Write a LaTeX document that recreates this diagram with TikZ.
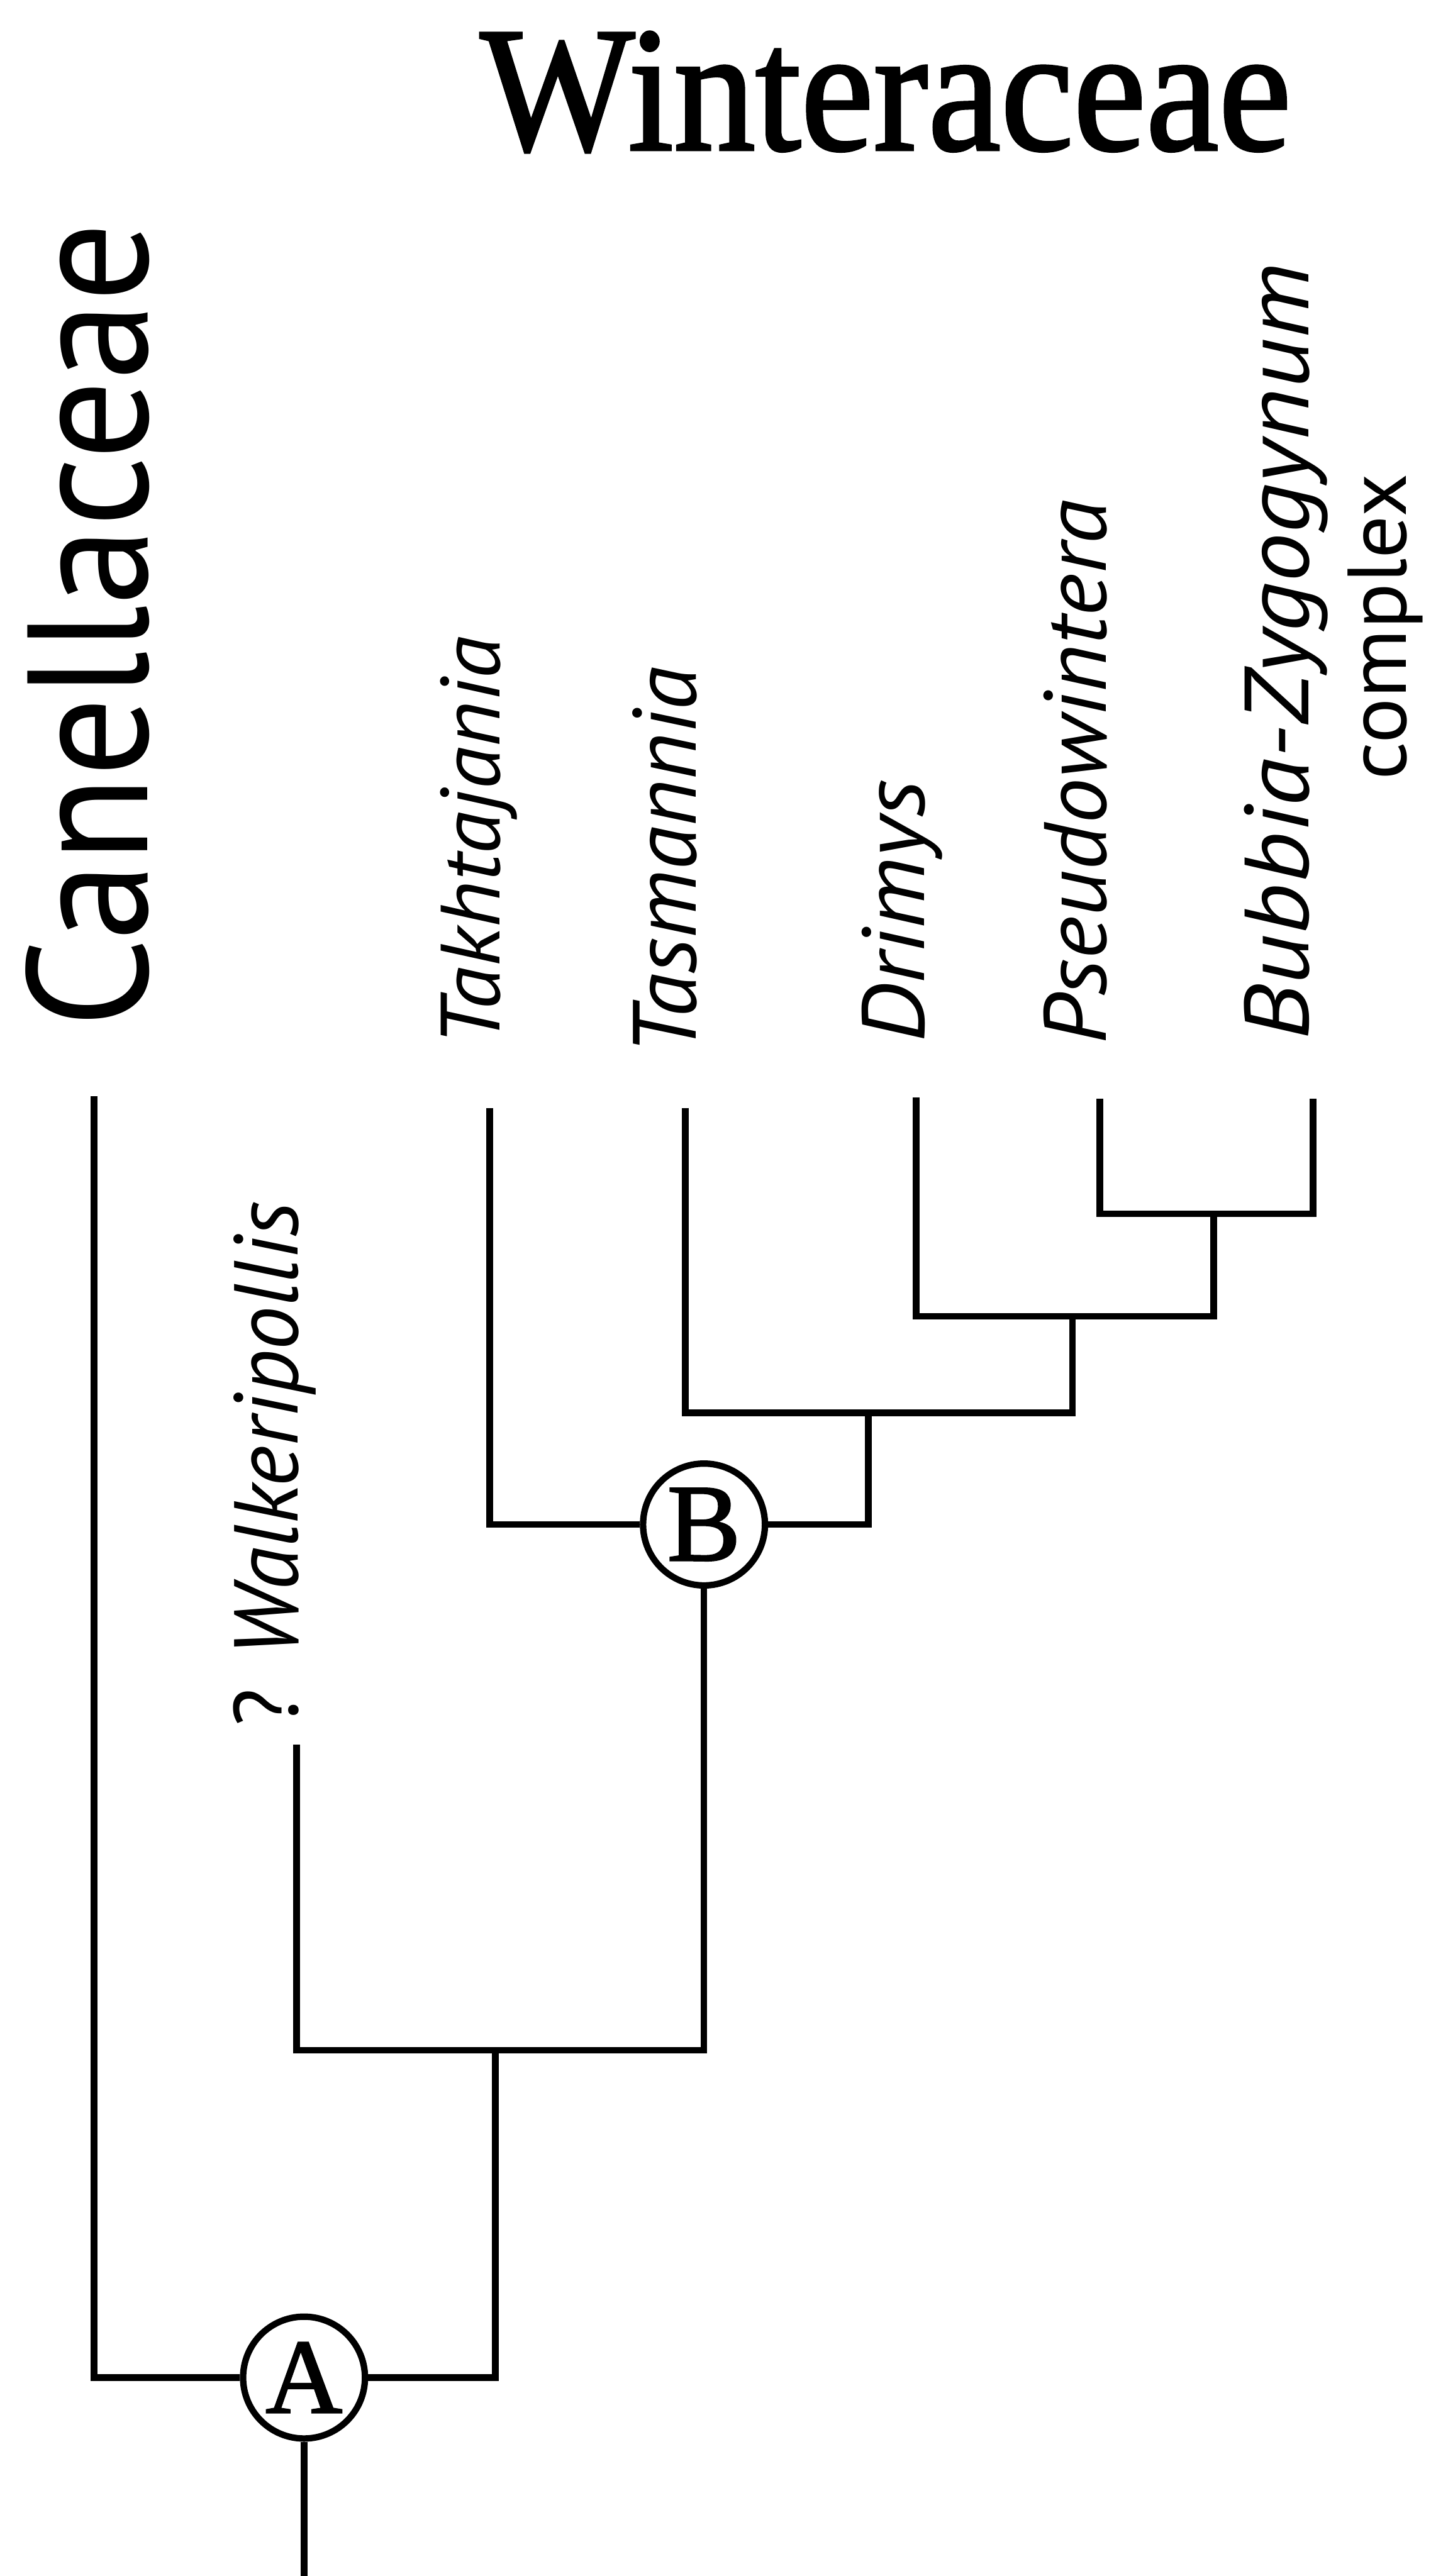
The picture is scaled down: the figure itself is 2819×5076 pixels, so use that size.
\documentclass[tikz,border=0pt]{standalone}
\usepackage{fontspec}
\setmainfont{Liberation Serif}
\setsansfont{PT Sans}
\newfontfamily\wfont[FakeBold=1.6]{Liberation Serif}
\usepackage{graphicx}
\newcommand{\fitto}[3]{\resizebox{#1cm}{#2cm}{#3}}
\tikzset{
  br/.style={line width=3.7pt, line join=miter, line cap=butt},
  clade/.style={circle, draw, line width=3.6pt, minimum size=2.4cm, inner sep=0pt, fill=white},
  lab/.style={rotate=90, anchor=base west, inner sep=0pt, outer sep=0pt},
  ttl/.style={anchor=base west, inner sep=0pt, outer sep=0pt}
}
\begin{document}
\begin{tikzpicture}[x=0.01cm, y=-0.01cm]
\fill[white] (0,0) rectangle (2819,5076);
\useasboundingbox (0,0) rectangle (2819,5076);

% titles
\node[ttl] (win) at (946,295) {\fitto{15.96}{2.32}{\wfont Winteraceae}};
\node[lab] (can) at (290,2025) {\fitto{15.85}{2.40}{\sffamily Canellaceae}};

% taxon labels
\node[lab] (takL) at (985,2062) {\fitto{8.07}{1.17}{\sffamily\itshape Takhtajania}};
\node[lab] (tasL) at (1371,2079) {\fitto{7.64}{1.25}{\sffamily\itshape Tasmannia}};
\node[lab] (drL) at (1821,2054) {\fitto{5.17}{1.23}{\sffamily\itshape Drimys}};
\node[lab] (psL) at (2179,2058) {\fitto{10.72}{1.23}{\sffamily\itshape Pseudowintera}};
\node[lab] (buL) at (2578,2049) {\fitto{15.28}{1.27}{\sffamily\itshape Bubbia-Zygogynum}};
\node[lab] (cxL) at (2770,1537) {\fitto{6.03}{1.15}{\sffamily complex}};
\node[lab] (wkL) at (587,3402) {\fitto{10.33}{1.27}{\sffamily ? \itshape Walkeripollis}};

% clade nodes
\node[clade] (A) at (599,4685) {\resizebox{!}{1.38cm}{\wfont A}};
\node[clade] (B) at (1387,3004) {\resizebox{!}{1.42cm}{\wfont B}};

% tips and junctions
\coordinate (canT) at (185,2160);
\coordinate (walkT) at (584,3438);
\coordinate (takT) at (965,2184);
\coordinate (tasT) at (1350,2183);
\coordinate (drT) at (1805,2163);
\coordinate (psT) at (2167,2165);
\coordinate (buT) at (2587,2165);
\coordinate (j1) at (976,4040);
\coordinate (j2) at (1711,2784);
\coordinate (j3) at (2113,2594);
\coordinate (j4) at (2391,2392);
\coordinate (root) at (599,5090);

% branches
\draw[br] (psT) |- (buT |- j4) -- (buT);
\draw[br] (drT) |- (j3 -| j4) -- (j4);
\draw[br] (tasT) |- (j2 -| j3) -- (j3);
\draw[br] (takT) |- (B.west);
\draw[br] (B.east) -| (j2);
\draw[br] (walkT) |- (B.south |- j1) -- (B.south);
\draw[br] (canT) |- (A.west);
\draw[br] (A.east) -| (j1);
\draw[br] (A.south) -- (root);
\end{tikzpicture}
\end{document}
